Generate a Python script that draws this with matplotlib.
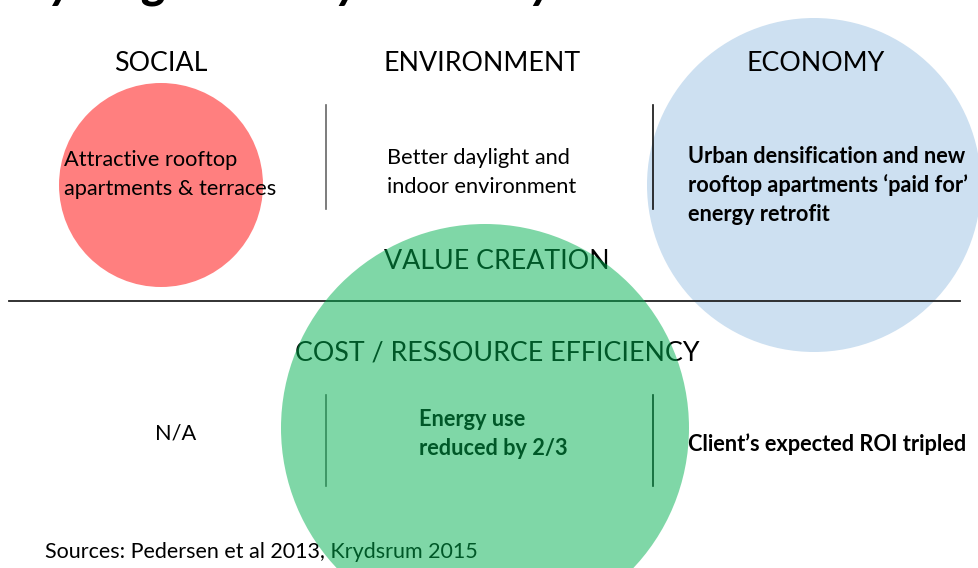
import matplotlib
matplotlib.use("Agg")
import matplotlib.pyplot as plt
from matplotlib.patches import Circle

# ---- content ----
title = "Synergies in Krydsrum by"
headings = ["SOCIAL", "ENVIRONMENT", "ECONOMY"]
value_row_label = "VALUE CREATION"
cost_row_label = "COST / RESSOURCE EFFICIENCY"
value_texts = [
    ["Attractive rooftop", "apartments & terraces"],
    ["Better daylight and", "indoor environment"],
    ["Urban densification and new", "rooftop apartments \u2018paid for\u2019", "energy retrofit"],
]
value_bold = [False, False, True]
cost_texts = [["N/A"], ["Energy use", "reduced by 2/3"], ["Client\u2019s expected ROI tripled"]]
cost_bold = [False, True, True]
sources_text = "Sources: Pedersen et al 2013, Krydsrum 2015"

FONT = ["Lato", "DejaVu Sans"]
plt.rcParams["font.family"] = FONT

W, H = 979, 568
fig = plt.figure(figsize=(W / 100, H / 100), dpi=100)
ax = fig.add_axes([0, 0, 1, 1])
ax.set_xlim(0, W)
ax.set_ylim(H, 0)
ax.axis("off")

# circles (behind text): social red, economy blue
ax.add_patch(Circle((161, 185), 102, facecolor="#FF7F7F", edgecolor="none", zorder=1))
ax.add_patch(Circle((814, 185), 167, facecolor="#CDE0F1", edgecolor="none", zorder=1))
# green circle on top, translucent
ax.add_patch(Circle((485, 428), 204, facecolor="#00B050", alpha=0.5, edgecolor="none", zorder=5))

# title (mostly cut off at top, as in the reference: only descenders visible)
ax.text(24, -3, title, fontsize=36, fontweight="bold", fontstyle="italic",
        ha="left", va="baseline", color="black", zorder=2)

# headings
HSIZE = 19.3
for lab, x in zip(headings, [161, 482, 816]):
    ax.text(x, 71, lab, fontsize=HSIZE, ha="center", va="baseline", color="black", zorder=2)
ax.text(497, 269, value_row_label, fontsize=HSIZE, ha="center", va="baseline", zorder=2)
ax.text(497, 361, cost_row_label, fontsize=HSIZE, ha="center", va="baseline", zorder=2)

# divider lines
ax.plot([9, 960], [301, 301], color="#222222", lw=1.3, zorder=2)
for x, c in [(326, "#666666"), (653, "#111111")]:
    ax.plot([x, x], [105, 209], color=c, lw=1.2, zorder=2)
    ax.plot([x, x], [395, 486], color=c, lw=1.2, zorder=2)

BSIZE = 15.7
LINE = 29
# value creation texts
for lines, bold, (x, y0) in zip(value_texts, value_bold, [(64, 166), (387, 164), (688, 163)]):
    for i, ln in enumerate(lines):
        ax.text(x, y0 + i * LINE, ln, fontsize=BSIZE, fontweight="bold" if bold else "normal",
                ha="left", va="baseline", zorder=2)

# cost texts
ax.text(176, 440, cost_texts[0][0], fontsize=BSIZE, ha="center", va="baseline", zorder=2)
for i, ln in enumerate(cost_texts[1]):
    ax.text(419, 426 + i * LINE, ln, fontsize=BSIZE, fontweight="bold", ha="left", va="baseline", zorder=2)
ax.text(688, 451, cost_texts[2][0], fontsize=BSIZE, fontweight="bold", ha="left", va="baseline", zorder=2)

# sources
ax.text(45, 558, sources_text, fontsize=15.5, ha="left", va="baseline", zorder=2)

fig.savefig("out.png", dpi=100)
